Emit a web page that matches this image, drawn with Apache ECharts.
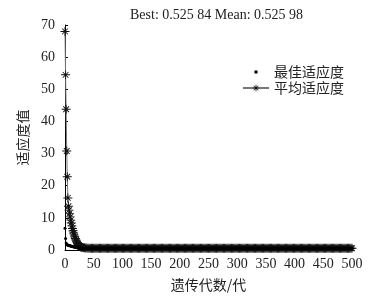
<!DOCTYPE html>
<html>
<head>
<meta charset="utf-8">
<script src="https://cdn.jsdelivr.net/npm/echarts@6/dist/echarts.min.js"></script>
<style>html,body{margin:0;padding:0;background:#fff}#c{width:376px;height:300px}</style>
</head>
<body>
<div id="c"></div>
<script>
// generations (x values)
var gens = [0,1,2,3,4,5,6,7,8,9,10,11,12,13,14,15,16,17,18,19,20,21,22,23,24,25,26,27,28,29,30,
  32,34,36,38,40,42,44,46,48,50,
  52,54,56,58,60,62,64,66,68,70,72,74,76,78,80,82,84,86,88,90,
  92,94,96,98,100,102,104,106,108,110,112,114,116,118,120,122,124,126,128,130,
  132,134,136,138,140,142,144,146,148,150,152,154,156,158,160,162,164,166,168,170,
  172,174,176,178,180,182,184,186,188,190,192,194,196,198,200,202,204,206,208,210,
  212,214,216,218,220,222,224,226,228,230,232,234,236,238,240,242,244,246,248,250,
  252,254,256,258,260,262,264,266,268,270,272,274,276,278,280,282,284,286,288,290,
  292,294,296,298,300,302,304,306,308,310,312,314,316,318,320,322,324,326,328,330,
  332,334,336,338,340,342,344,346,348,350,352,354,356,358,360,362,364,366,368,370,
  372,374,376,378,380,382,384,386,388,390,392,394,396,398,400,402,404,406,408,410,
  412,414,416,418,420,422,424,426,428,430,432,434,436,438,440,442,444,446,448,450,
  452,454,456,458,460,462,464,466,468,470,472,474,476,478,480,482,484,486,488,490,
  492,494,496,498,500];
// mean fitness per generation
var meanFit = [68,54.5,43.8,30.8,22.8,16.2,13.6,12.4,11.4,10.3,9.3,8.4,7.5,6.7,6.0,5.3,4.7,4.1,3.6,3.1,2.7,2.3,2.0,1.7,1.5,1.3,1.15,1.0,0.92,0.85,0.79,
  0.72,0.67,0.63,0.6,0.58,0.565,0.555,0.545,0.538,0.534,
  0.533,0.532,0.532,0.531,0.531,0.530,0.530,0.529,0.529,0.529,0.528,0.528,0.528,0.528,0.528,0.527,0.527,0.527,0.527,0.527,
  0.526,0.526,0.526,0.526,0.526,0.526,0.526,0.526,0.526,0.526,0.526,0.526,0.526,0.526,0.526,0.526,0.526,0.526,0.526,0.526,
  0.526,0.526,0.526,0.526,0.526,0.526,0.526,0.526,0.526,0.526,0.526,0.526,0.526,0.526,0.526,0.526,0.526,0.526,0.526,0.526,
  0.526,0.526,0.526,0.526,0.526,0.526,0.526,0.526,0.526,0.526,0.526,0.526,0.526,0.526,0.526,0.526,0.526,0.526,0.526,0.526,
  0.526,0.526,0.526,0.526,0.526,0.526,0.526,0.526,0.526,0.526,0.526,0.526,0.526,0.526,0.526,0.526,0.526,0.526,0.526,0.526,
  0.526,0.526,0.526,0.526,0.526,0.526,0.526,0.526,0.526,0.526,0.526,0.526,0.526,0.526,0.526,0.526,0.526,0.526,0.526,0.526,
  0.526,0.526,0.526,0.526,0.526,0.526,0.526,0.526,0.526,0.526,0.526,0.526,0.526,0.526,0.526,0.526,0.526,0.526,0.526,0.526,
  0.526,0.526,0.526,0.526,0.526,0.526,0.526,0.526,0.526,0.526,0.526,0.526,0.526,0.526,0.526,0.526,0.526,0.526,0.526,0.526,
  0.526,0.526,0.526,0.526,0.526,0.526,0.526,0.526,0.526,0.526,0.526,0.526,0.526,0.526,0.526,0.526,0.526,0.526,0.526,0.526,
  0.526,0.526,0.526,0.526,0.526,0.526,0.526,0.526,0.526,0.526,0.526,0.526,0.526,0.526,0.526,0.526,0.526,0.526,0.526,0.526,
  0.526,0.526,0.526,0.526,0.526,0.526,0.526,0.526,0.526,0.526,0.526,0.526,0.526,0.526,0.526,0.526,0.526,0.526,0.526,0.526,
  0.526,0.526,0.526,0.526,0.526];
// best fitness per generation
var bestFit = [6.8,3.6,2.2,1.8,1.6,1.5,1.45,1.4,1.35,1.3,1.25,1.2,1.15,1.1,1.05,1.0,0.95,0.9,0.86,0.82,0.78,0.75,0.72,0.69,0.66,0.64,0.62,0.6,0.59,0.58,0.57,
  0.56,0.55,0.545,0.54,0.537,0.535,0.533,0.531,0.53,0.529,
  0.528,0.528,0.528,0.528,0.528,0.527,0.527,0.527,0.527,0.527,0.526,0.526,0.526,0.526,0.526,0.526,0.526,0.526,0.526,0.526,
  0.526,0.526,0.526,0.526,0.526,0.526,0.526,0.526,0.526,0.526,0.526,0.526,0.526,0.526,0.526,0.526,0.526,0.526,0.526,0.526,
  0.526,0.526,0.526,0.526,0.526,0.526,0.526,0.526,0.526,0.526,0.526,0.526,0.526,0.526,0.526,0.526,0.526,0.526,0.526,0.526,
  0.526,0.526,0.526,0.526,0.526,0.526,0.526,0.526,0.526,0.526,0.526,0.526,0.526,0.526,0.526,0.526,0.526,0.526,0.526,0.526,
  0.526,0.526,0.526,0.526,0.526,0.526,0.526,0.526,0.526,0.526,0.526,0.526,0.526,0.526,0.526,0.526,0.526,0.526,0.526,0.526,
  0.526,0.526,0.526,0.526,0.526,0.526,0.526,0.526,0.526,0.526,0.526,0.526,0.526,0.526,0.526,0.526,0.526,0.526,0.526,0.526,
  0.526,0.526,0.526,0.526,0.526,0.526,0.526,0.526,0.526,0.526,0.526,0.526,0.526,0.526,0.526,0.526,0.526,0.526,0.526,0.526,
  0.526,0.526,0.526,0.526,0.526,0.526,0.526,0.526,0.526,0.526,0.526,0.526,0.526,0.526,0.526,0.526,0.526,0.526,0.526,0.526,
  0.526,0.526,0.526,0.526,0.526,0.526,0.526,0.526,0.526,0.526,0.526,0.526,0.526,0.526,0.526,0.526,0.526,0.526,0.526,0.526,
  0.526,0.526,0.526,0.526,0.526,0.526,0.526,0.526,0.526,0.526,0.526,0.526,0.526,0.526,0.526,0.526,0.526,0.526,0.526,0.526,
  0.526,0.526,0.526,0.526,0.526,0.526,0.526,0.526,0.526,0.526,0.526,0.526,0.526,0.526,0.526,0.526,0.526,0.526,0.526,0.526,
  0.526,0.526,0.526,0.526,0.526];
var titleText = 'Best: 0.525 84 Mean: 0.525 98';
var seriesNames = ['最佳适应度', '平均适应度'];
var xName = '遗传代数/代';
var yName = '适应度值';

var star = 'path://M9 0L11 0L11 20L9 20Z M0 9L20 9L20 11L0 11Z M2.9 4.3L4.3 2.9L17.1 15.7L15.7 17.1Z M15.7 2.9L17.1 4.3L4.3 17.1L2.9 15.7Z';
// small dot centred in a wide icon box (tiny corner specks fix the box size)
var dotIcon = 'path://M0 0L0.1 0L0.1 0.1Z M104 36L103.9 36L103.9 35.9Z M46 12L58 12L58 24L46 24Z';
var serif = 'Liberation Serif';
var cjk = 'Noto Sans CJK SC';

var chart = echarts.init(document.getElementById('c'), null, {renderer: 'canvas'});
chart.setOption({
  animation: false,
  backgroundColor: '#fff',
  title: {
    text: titleText, left: 125, top: 3,
    textStyle: {fontFamily: serif, fontSize: 14, fontWeight: 'normal', color: '#222'}
  },
  legend: {
    data: [{name: seriesNames[0], icon: dotIcon}, {name: seriesNames[1]}],
    left: 237, top: 60, orient: 'vertical',
    itemWidth: 26, itemHeight: 9, itemGap: 2,
    textStyle: {fontFamily: cjk, fontSize: 14, color: '#222'}
  },
  grid: {left: 65, right: 24, top: 25, bottom: 50},
  xAxis: {
    type: 'value', min: 0, max: 500, interval: 50,
    name: xName, nameLocation: 'middle', nameGap: 28,
    nameTextStyle: {fontFamily: cjk, fontSize: 14, color: '#222'},
    axisLine: {lineStyle: {color: '#000', width: 1}},
    axisTick: {inside: true, length: 3, lineStyle: {color: '#000'}},
    axisLabel: {fontFamily: serif, fontSize: 14, color: '#222', margin: 7},
    splitLine: {show: false}
  },
  yAxis: {
    type: 'value', min: 0, max: 70, interval: 10,
    name: yName, nameLocation: 'middle', nameGap: 30, nameRotate: 90,
    nameTextStyle: {fontFamily: cjk, fontSize: 14, color: '#222'},
    axisLine: {show: true, lineStyle: {color: '#000', width: 1}},
    axisTick: {show: true, inside: true, length: 3, lineStyle: {color: '#000'}},
    axisLabel: {fontFamily: serif, fontSize: 14, color: '#222', margin: 10},
    splitLine: {show: false}
  },
  series: [{
    name: seriesNames[0], type: 'line',
    data: gens.map(function (g, i) { return [g, bestFit[i]]; }),
    symbol: 'circle', symbolSize: 3, showSymbol: true, showAllSymbol: true,
    lineStyle: {width: 0, opacity: 0},
    itemStyle: {color: '#000'},
    z: 3
  }, {
    name: seriesNames[1], type: 'line',
    data: gens.map(function (g, i) { return [g, meanFit[i]]; }),
    symbol: star, symbolSize: 9, showSymbol: true, showAllSymbol: true,
    lineStyle: {width: 1, color: '#777'},
    itemStyle: {color: '#111'},
    z: 2
  }]
});
</script>
</body>
</html>
